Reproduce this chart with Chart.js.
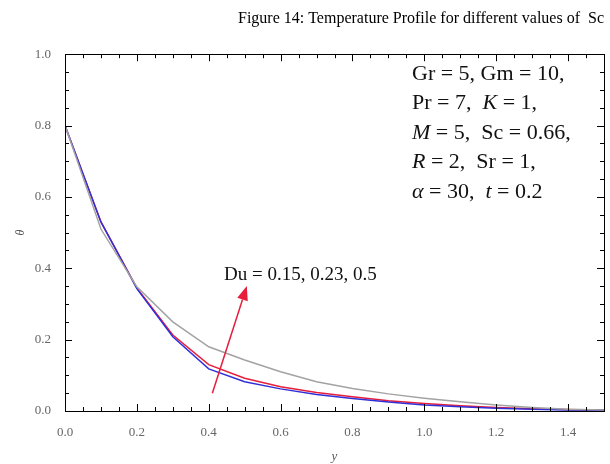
<!DOCTYPE html>
<html>
<head>
<meta charset="utf-8">
<script src="https://cdn.jsdelivr.net/npm/chart.js@4/dist/chart.umd.min.js"></script>
<style>
  html, body { margin: 0; padding: 0; background: #fff; }
  #wrap { width: 610px; height: 464px; }
</style>
</head>
<body>
<div id="wrap"><canvas id="myChart" width="610" height="464"></canvas></div>
<script>
// y positions (x axis)
var yValues = [0, 0.1, 0.2, 0.3, 0.4, 0.5, 0.6, 0.7, 0.8, 0.9, 1.0, 1.1, 1.2, 1.3, 1.4, 1.5];

// theta for the three Du values
var thetaDu015 = [0.80, 0.53, 0.343, 0.208, 0.118, 0.082, 0.062, 0.046, 0.035, 0.025, 0.017, 0.012, 0.008, 0.005, 0.003, 0.002];
var thetaDu023 = [0.80, 0.53, 0.345, 0.213, 0.130, 0.092, 0.068, 0.052, 0.040, 0.029, 0.021, 0.015, 0.010, 0.006, 0.004, 0.002];
var thetaDu05  = [0.80, 0.51, 0.348, 0.250, 0.180, 0.143, 0.110, 0.082, 0.063, 0.048, 0.036, 0.026, 0.017, 0.010, 0.005, 0.003];

var xTicks = [0, 0.2, 0.4, 0.6, 0.8, 1.0, 1.2, 1.4];
var yTicks = [0, 0.2, 0.4, 0.6, 0.8, 1.0];

// arrow from/to, in data units
var arrowFrom = [0.41, 0.05];
var arrowTo = [0.506, 0.35];

function points(vals) {
    return yValues.map(function (x, i) { return { x: x, y: vals[i] }; });
}

var serif = "'Liberation Serif', 'Times New Roman', serif";

// frame + inward ticks on all four sides
var frameTicks = {
    id: 'frameTicks',
    afterDraw: function (chart) {
        var ctx = chart.ctx;
        var a = chart.chartArea;
        var xs = chart.scales.x, ys = chart.scales.y;
        ctx.save();
        ctx.strokeStyle = '#000';
        ctx.lineWidth = 1;
        ctx.strokeRect(Math.round(a.left) + 0.5, Math.round(a.top) + 0.5,
            Math.round(a.right - a.left), Math.round(a.bottom - a.top));
        ctx.beginPath();
        for (var i = 0; i <= 30; i++) {
            var px = Math.round(xs.getPixelForValue(i * 0.05)) + 0.5;
            var len = (i % 4 === 0) ? 7 : 4;
            ctx.moveTo(px, a.bottom); ctx.lineTo(px, a.bottom - len);
            ctx.moveTo(px, a.top); ctx.lineTo(px, a.top + len);
        }
        for (var j = 0; j <= 20; j++) {
            var py = Math.round(ys.getPixelForValue(j * 0.05)) + 0.5;
            var l2 = (j % 4 === 0) ? 7 : 4;
            ctx.moveTo(a.left, py); ctx.lineTo(a.left + l2, py);
            ctx.moveTo(a.right, py); ctx.lineTo(a.right - l2, py);
        }
        ctx.stroke();
        ctx.restore();
    }
};

function drawRich(ctx, parts, x, y, size) {
    parts.forEach(function (p) {
        ctx.font = (p[1] ? 'italic ' : '') + size + 'px ' + serif;
        ctx.fillText(p[0], x, y);
        x += ctx.measureText(p[0]).width;
    });
}

var notes = {
    id: 'notes',
    afterDatasetsDraw: function (chart) {
        var ctx = chart.ctx;
        var xs = chart.scales.x, ys = chart.scales.y;
        ctx.save();

        // arrow
        var x0 = xs.getPixelForValue(arrowFrom[0]), y0 = ys.getPixelForValue(arrowFrom[1]);
        var x1 = xs.getPixelForValue(arrowTo[0]), y1 = ys.getPixelForValue(arrowTo[1]);
        var ang = Math.atan2(y1 - y0, x1 - x0);
        var hl = 14, hw = 5.5;
        ctx.strokeStyle = '#e61e3c';
        ctx.fillStyle = '#e61e3c';
        ctx.lineWidth = 1.5;
        ctx.beginPath();
        ctx.moveTo(x0, y0);
        ctx.lineTo(x1 - hl * Math.cos(ang), y1 - hl * Math.sin(ang));
        ctx.stroke();
        ctx.beginPath();
        ctx.moveTo(x1, y1);
        ctx.lineTo(x1 - hl * Math.cos(ang) + hw * Math.sin(ang), y1 - hl * Math.sin(ang) - hw * Math.cos(ang));
        ctx.lineTo(x1 - hl * Math.cos(ang) - hw * Math.sin(ang), y1 - hl * Math.sin(ang) + hw * Math.cos(ang));
        ctx.closePath();
        ctx.fill();

        ctx.fillStyle = '#111';
        ctx.textBaseline = 'middle';
        ctx.textAlign = 'left';
        drawRich(ctx, [['Du = 0.15, 0.23, 0.5', false]], 224, 275, 19);

        var lines = [
            [['Gr = 5, Gm = 10,', false]],
            [['Pr = 7,  ', false], ['K', true], [' = 1,', false]],
            [['M', true], [' = 5,  Sc = 0.66,', false]],
            [['R', true], [' = 2,  Sr = 1,', false]],
            [['\u03B1', true], [' = 30,  ', false], ['t', true], [' = 0.2', false]]
        ];
        lines.forEach(function (ln, k) {
            drawRich(ctx, ln, 412, 74 + k * 29.5, 22);
        });
        ctx.restore();
    }
};

var data = {
    datasets: [
        { label: 'Du = 0.5', data: points(thetaDu05), borderColor: '#a3a3a3' },
        { label: 'Du = 0.15', data: points(thetaDu015), borderColor: '#3030d8' },
        { label: 'Du = 0.23', data: points(thetaDu023), borderColor: '#e61e3c' }
    ]
};

var config = {
    type: 'line',
    data: data,
    options: {
        responsive: false,
        animation: false,
        layout: { padding: { left: 0, right: 6, top: 0, bottom: 0 } },
        elements: {
            point: { radius: 0 },
            line: { borderWidth: 1.5, tension: 0, fill: false }
        },
        plugins: {
            legend: { display: false },
            tooltip: { enabled: false },
            title: {
                display: true,
                text: 'Figure 14: Temperature Profile for different values of  Sc',
                align: 'end',
                color: '#000',
                font: { family: serif, size: 16, weight: 'normal' },
                padding: { top: 9, bottom: 26 }
            }
        },
        scales: {
            x: {
                type: 'linear',
                min: 0,
                max: 1.5,
                afterFit: function (s) { s.height = 53; },
                afterBuildTicks: function (s) { s.ticks = xTicks.map(function (v) { return { value: v }; }); },
                grid: { display: false },
                border: { display: false },
                ticks: {
                    color: '#666',
                    padding: 6,
                    maxRotation: 0,
                    font: { family: serif, size: 13 },
                    callback: function (v) { return v.toFixed(1); }
                },
                title: {
                    display: true,
                    text: 'y',
                    color: '#555',
                    padding: { top: 6, bottom: 0 },
                    font: { family: serif, size: 13, style: 'italic' }
                }
            },
            y: {
                type: 'linear',
                min: 0,
                max: 1,
                afterFit: function (s) { s.width = 65; },
                afterBuildTicks: function (s) { s.ticks = yTicks.map(function (v) { return { value: v }; }); },
                grid: { display: false },
                border: { display: false },
                ticks: {
                    color: '#666',
                    padding: 6,
                    font: { family: serif, size: 13 },
                    callback: function (v) { return v.toFixed(1); }
                },
                title: {
                    display: true,
                    text: '\u03B8',
                    color: '#555',
                    padding: { top: 14, bottom: 0 },
                    font: { family: serif, size: 12, style: 'italic' }
                }
            }
        }
    },
    plugins: [frameTicks, notes]
};

const myChart = new Chart(document.getElementById('myChart'), config);
</script>
</body>
</html>
